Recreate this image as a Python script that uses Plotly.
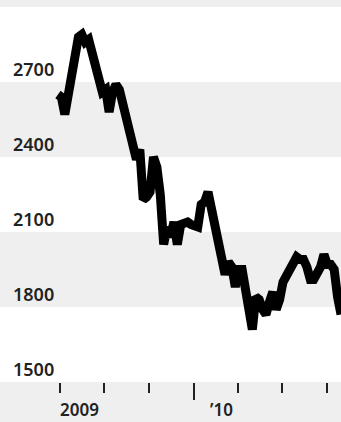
import pandas as pd
import plotly.graph_objects as go

# ---- data ----
start_date = "2009-03-28"
values = [2650, 2640, 2570, 2650, 2720, 2800, 2880, 2890, 2860, 2870,
          2820, 2750, 2700, 2660, 2670, 2580, 2660, 2690, 2670, 2620,
          2570, 2500, 2440, 2390, 2430, 2230, 2240, 2260, 2400, 2360,
          2250, 2050, 2120, 2080, 2140, 2050, 2130, 2140, 2140, 2130,
          2120, 2120, 2210, 2220, 2260, 2200, 2110, 2090, 2030, 1930,
          1980, 1960, 1880, 1950, 1950, 1870, 1790, 1710, 1840, 1830,
          1790, 1770, 1820, 1860, 1790, 1830, 1900, 1930, 1960, 1990,
          2000, 1990, 1990, 1960, 1910, 1910, 1930, 1960, 2010, 1970,
          1970, 1950, 1840, 1770]
dates = pd.date_range(start_date, periods=len(values), freq="7D")

y_ticks = [1500, 1800, 2100, 2400, 2700]
y_tick_labels = ["1500", "1800", "2100", "2400", "2700"]
gray_bands = [(2400, 2700), (1800, 2100), (3000, 3100)]

major_ticks = ["2010-01-01"]
minor_ticks = ["2009-04-01", "2009-07-01", "2009-10-01",
               "2010-04-01", "2010-07-01", "2010-10-01"]
year_labels = ["2009", "\u201910"]
year_label_pos = ["2009-05-11", "2010-02-27"]

x_range = ["2008-11-29", "2010-10-30"]
y_range = [1500, 3028]

BAND = "#efefef"
TXT = "#222222"
FONT = "Noto Sans"

fig = go.Figure()
fig.add_trace(go.Scatter(x=dates, y=values, mode="lines",
                         line=dict(color="black", width=9),
                         hoverinfo="skip"))

for lo, hi in gray_bands:
    fig.add_shape(type="rect", xref="paper", yref="y", x0=0, x1=1,
                  y0=lo, y1=hi, fillcolor=BAND, line_width=0, layer="below")

for v, t in zip(y_ticks, y_tick_labels):
    fig.add_annotation(xref="paper", yref="y", x=0, y=v, text=t,
                       xanchor="left", yanchor="middle", xshift=11, yshift=13,
                       showarrow=False,
                       font=dict(family=FONT, size=18, color=TXT, weight=600))

for d, t in zip(year_label_pos, year_labels):
    fig.add_annotation(xref="x", yref="paper", x=d, y=0, text=t,
                       xanchor="center", yanchor="middle", yshift=-27,
                       borderpad=0, borderwidth=0,
                       showarrow=False,
                       font=dict(family=FONT, size=17, color=TXT, weight=600))

fig.update_layout(
    width=341, height=422,
    margin=dict(l=0, r=0, t=0, b=40),
    paper_bgcolor=BAND, plot_bgcolor="white",
    showlegend=False,
    xaxis=dict(type="date", range=x_range, showgrid=False, zeroline=False,
               showline=False, showticklabels=False,
               tickmode="array", tickvals=major_ticks,
               ticks="outside", ticklen=17, tickwidth=2, tickcolor=TXT,
               minor=dict(tickmode="array", tickvals=minor_ticks,
                          ticks="outside", ticklen=10, tickwidth=2,
                          tickcolor=TXT, showgrid=False)),
    yaxis=dict(range=y_range, showgrid=False, zeroline=False,
               showline=False, showticklabels=False, ticks=""),
)

fig.write_html("out.html", config={"displayModeBar": False},
               post_script="document.body.style.margin='0';"
                           "document.body.style.padding='0';")
